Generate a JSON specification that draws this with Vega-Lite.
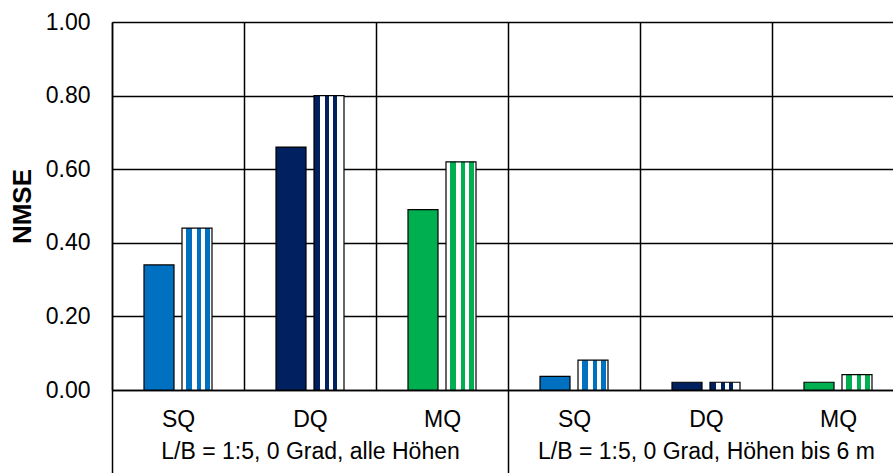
{
  "$schema": "https://vega.github.io/schema/vega-lite/v6.json",
  "usermeta": {"embedOptions": {"actions": false}},
  "width": 781,
  "height": 368,
  "autosize": {"type": "none"},
  "padding": {"left": 112, "top": 22, "right": 0, "bottom": 83},
  "background": "white",
  "config": {"view": {"stroke": null}, "font": "Liberation Sans"},
  "data": {
    "values": [
      {"group": "1", "quantity": "SQ", "key": "1|SQ", "series": "solid", "value": 0.34},
      {"group": "1", "quantity": "SQ", "key": "1|SQ", "series": "striped", "value": 0.44},
      {"group": "1", "quantity": "DQ", "key": "1|DQ", "series": "solid", "value": 0.66},
      {"group": "1", "quantity": "DQ", "key": "1|DQ", "series": "striped", "value": 0.80},
      {"group": "1", "quantity": "MQ", "key": "1|MQ", "series": "solid", "value": 0.49},
      {"group": "1", "quantity": "MQ", "key": "1|MQ", "series": "striped", "value": 0.62},
      {"group": "2", "quantity": "SQ", "key": "2|SQ", "series": "solid", "value": 0.037},
      {"group": "2", "quantity": "SQ", "key": "2|SQ", "series": "striped", "value": 0.081},
      {"group": "2", "quantity": "DQ", "key": "2|DQ", "series": "solid", "value": 0.021},
      {"group": "2", "quantity": "DQ", "key": "2|DQ", "series": "striped", "value": 0.021},
      {"group": "2", "quantity": "MQ", "key": "2|MQ", "series": "solid", "value": 0.021},
      {"group": "2", "quantity": "MQ", "key": "2|MQ", "series": "striped", "value": 0.042}
    ]
  },
  "encoding": {
    "xOffset": {
      "field": "series", "type": "nominal",
      "scale": {"domain": ["solid", "striped"], "range": [32, 100], "paddingInner": 0.2105, "paddingOuter": 0}
    },
    "y": {
      "field": "value", "type": "quantitative",
      "scale": {"domain": [0, 1], "nice": false},
      "axis": {
        "title": "NMSE", "titleFontSize": 26, "titleFontWeight": "bold", "titleColor": "black", "titlePadding": 10,
        "values": [0, 0.2, 0.4, 0.6, 0.8, 1], "format": ".2f",
        "labelFontSize": 23, "labelColor": "black", "labelPadding": 22,
        "ticks": false, "grid": true, "gridColor": "black", "gridWidth": 1.5,
        "domainColor": "black", "domainWidth": 1.5
      }
    }
  },
  "layer": [
    {
      "transform": [{"filter": "datum.series == 'solid'"}],
      "mark": {"type": "bar", "stroke": "black", "strokeWidth": 1.2},
      "encoding": {
        "x": {
          "field": "key", "type": "nominal",
          "scale": {"domain": ["1|SQ", "1|DQ", "1|MQ", "2|SQ", "2|DQ", "2|MQ"], "range": [0, 792], "paddingInner": 0, "paddingOuter": 0},
          "axis": {
            "orient": "bottom",
            "title": null, "labelExpr": "split(datum.value, '|')[1]", "labelAngle": 0,
            "labelFontSize": 23, "labelColor": "black", "labelPadding": 18,
            "ticks": false, "grid": true, "gridColor": "black", "gridWidth": 1.5, "tickBand": "extent",
            "domainColor": "black", "domainWidth": 1.5
          }
        },
        "fill": {
          "field": "quantity", "type": "nominal",
          "scale": {"domain": ["SQ", "DQ", "MQ"], "range": ["#0070C0", "#002060", "#00B050"]},
          "legend": null
        }
      }
    },
    {
      "transform": [{"filter": "datum.series == 'striped' && datum.quantity == 'SQ'"}],
      "mark": {
        "type": "bar", "stroke": "black", "strokeWidth": 1.2,
        "fill": {"gradient": "linear", "x1": 0, "y1": 0, "x2": 1, "y2": 0, "stops": [
          {"offset": 0, "color": "white"}, {"offset": 0.15, "color": "white"},
          {"offset": 0.15, "color": "#0070C0"}, {"offset": 0.33, "color": "#0070C0"},
          {"offset": 0.33, "color": "white"}, {"offset": 0.49, "color": "white"},
          {"offset": 0.49, "color": "#0070C0"}, {"offset": 0.64, "color": "#0070C0"},
          {"offset": 0.64, "color": "white"}, {"offset": 0.78, "color": "white"},
          {"offset": 0.78, "color": "#0070C0"}, {"offset": 0.93, "color": "#0070C0"},
          {"offset": 0.93, "color": "white"}, {"offset": 1, "color": "white"}
        ]}
      },
      "encoding": {
        "x": {
          "field": "key", "type": "nominal",
          "scale": {"domain": ["1|SQ", "1|DQ", "1|MQ", "2|SQ", "2|DQ", "2|MQ"], "range": [0, 792], "paddingInner": 0, "paddingOuter": 0},
          "axis": {
            "orient": "bottom",
            "title": null,
            "labelExpr": "datum.value == '1|DQ' ? 'L/B = 1:5, 0 Grad, alle Höhen' : (datum.value == '2|DQ' ? 'L/B = 1:5, 0 Grad, Höhen bis 6 m' : '')",
            "labelAngle": 0, "labelFontSize": 23, "labelColor": "black",
            "labelPadding": -35, "labelLimit": 1000, "labelOverlap": false, "labelBound": false, "labelFlush": false,
            "tickOffset": -66, "labelOffset": 66, "tickSize": 85, "tickWidth": 1.5,
            "tickColor": {"condition": {"test": "datum.value == '1|SQ' || datum.value == '2|SQ'", "value": "black"}, "value": "transparent"},
            "domain": false, "grid": false
          }
        }
      }
    },
    {
      "transform": [{"filter": "datum.series == 'striped' && datum.quantity == 'DQ'"}],
      "mark": {
        "type": "bar", "stroke": "black", "strokeWidth": 1.2,
        "fill": {"gradient": "linear", "x1": 0, "y1": 0, "x2": 1, "y2": 0, "stops": [
          {"offset": 0, "color": "#002060"}, {"offset": 0.21, "color": "#002060"},
          {"offset": 0.21, "color": "white"}, {"offset": 0.36, "color": "white"},
          {"offset": 0.36, "color": "#002060"}, {"offset": 0.5, "color": "#002060"},
          {"offset": 0.5, "color": "white"}, {"offset": 0.63, "color": "white"},
          {"offset": 0.63, "color": "#002060"}, {"offset": 0.78, "color": "#002060"},
          {"offset": 0.78, "color": "white"}, {"offset": 1, "color": "white"}
        ]}
      },
      "encoding": {
        "x": {
          "field": "key", "type": "nominal",
          "scale": {"domain": ["1|SQ", "1|DQ", "1|MQ", "2|SQ", "2|DQ", "2|MQ"], "range": [0, 792], "paddingInner": 0, "paddingOuter": 0},
          "axis": null
        }
      }
    },
    {
      "transform": [{"filter": "datum.series == 'striped' && datum.quantity == 'MQ'"}],
      "mark": {
        "type": "bar", "stroke": "black", "strokeWidth": 1.2,
        "fill": {"gradient": "linear", "x1": 0, "y1": 0, "x2": 1, "y2": 0, "stops": [
          {"offset": 0, "color": "white"}, {"offset": 0.15, "color": "white"},
          {"offset": 0.15, "color": "#00B050"}, {"offset": 0.33, "color": "#00B050"},
          {"offset": 0.33, "color": "white"}, {"offset": 0.49, "color": "white"},
          {"offset": 0.49, "color": "#00B050"}, {"offset": 0.64, "color": "#00B050"},
          {"offset": 0.64, "color": "white"}, {"offset": 0.78, "color": "white"},
          {"offset": 0.78, "color": "#00B050"}, {"offset": 0.93, "color": "#00B050"},
          {"offset": 0.93, "color": "white"}, {"offset": 1, "color": "white"}
        ]}
      },
      "encoding": {
        "x": {
          "field": "key", "type": "nominal",
          "scale": {"domain": ["1|SQ", "1|DQ", "1|MQ", "2|SQ", "2|DQ", "2|MQ"], "range": [0, 792], "paddingInner": 0, "paddingOuter": 0},
          "axis": null
        }
      }
    }
  ],
  "resolve": {"axis": {"x": "independent"}}
}
